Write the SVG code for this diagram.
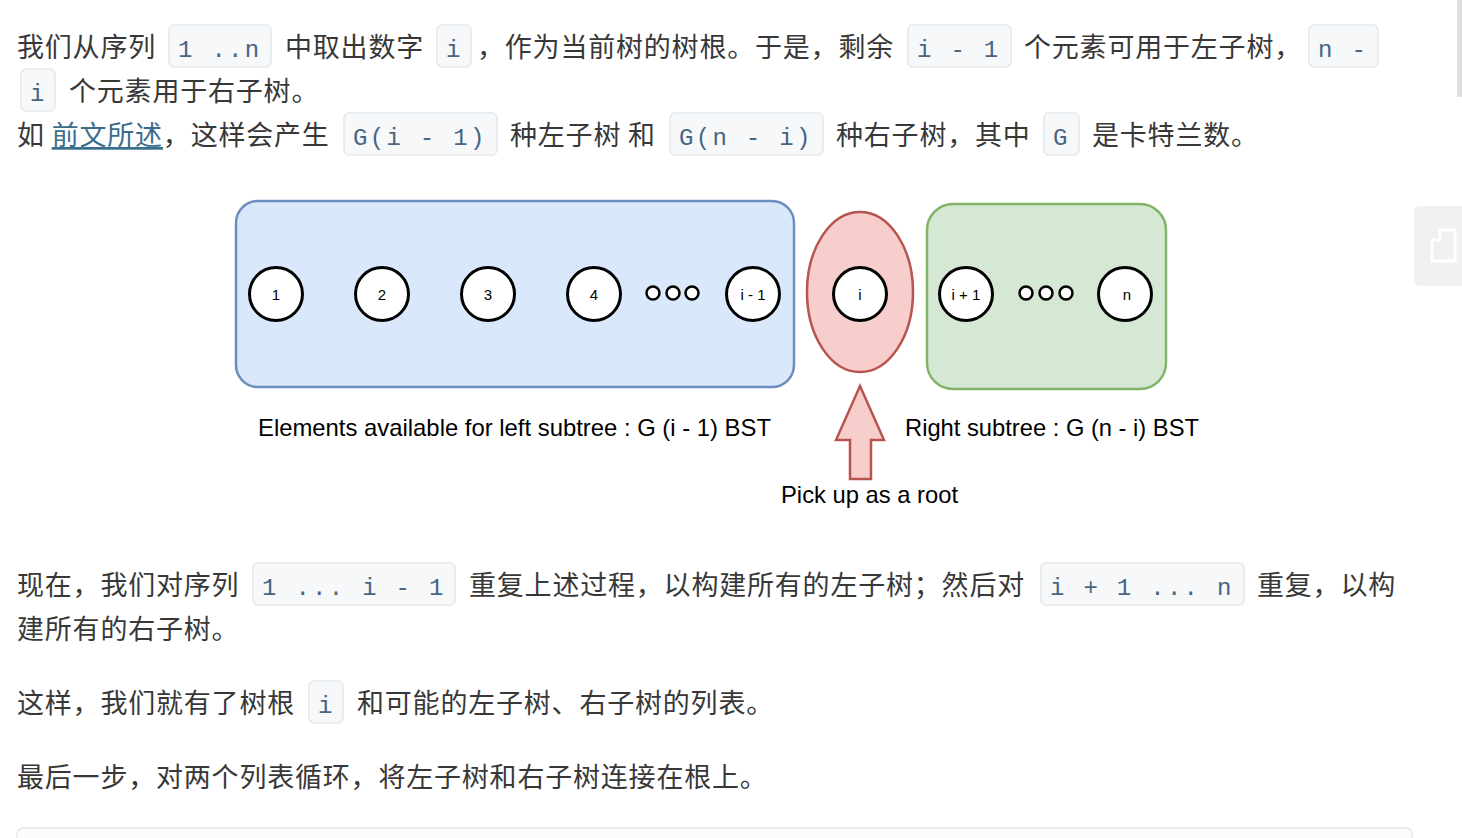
<svg xmlns="http://www.w3.org/2000/svg" width="1462" height="838" viewBox="0 0 1462 838">
<style>
.cn{font-family:"Noto Sans CJK SC","Liberation Sans",sans-serif;font-size:27px;letter-spacing:0.8px;fill:#383838}
.cb{fill:#f6f8fa;stroke:#e4e8ec;stroke-width:1.5}
.cd{font-family:"Liberation Mono","DejaVu Sans Mono",monospace;font-size:24px;letter-spacing:2.3px;fill:#476582}
.lk{fill:#3a6d8c;text-decoration:underline}
.nd{fill:#ffffff;stroke:#000000;stroke-width:3}
.dot{fill:#ffffff;stroke:#000000;stroke-width:2.5}
.nl{font-family:"Liberation Sans",Arial,sans-serif;font-size:15px;fill:#000;text-anchor:middle}
.lb{font-family:"Liberation Sans",Arial,sans-serif;font-size:24px;fill:#000}
</style>
<rect width="1462" height="838" fill="#ffffff"/>

<g id="paragraph1">
<text class="cn" x="17" y="57">我们从序列</text>
<rect class="cb" x="169" y="25" width="102" height="42" rx="5"/>
<text class="cd" x="178" y="57">1 ..n</text>
<text class="cn" x="285" y="57">中取出数字</text>
<rect class="cb" x="437" y="25" width="34" height="42" rx="5"/>
<text class="cd" x="446" y="57">i</text>
<text class="cn" x="477" y="57">，作为当前树的树根。于是，剩余</text>
<rect class="cb" x="908" y="25" width="103" height="42" rx="5"/>
<text class="cd" x="917" y="57">i - 1</text>
<text class="cn" x="1024" y="57">个元素可用于左子树，</text>
<rect class="cb" x="1309" y="25" width="69" height="42" rx="5"/>
<text class="cd" x="1318" y="57">n -</text>
<rect class="cb" x="21" y="69" width="34" height="42" rx="5"/>
<text class="cd" x="30" y="101">i</text>
<text class="cn" x="69" y="101">个元素用于右子树。</text>
<text class="cn" x="17" y="145">如 <tspan class="lk">前文所述</tspan>，这样会产生</text>
<rect class="cb" x="344" y="113" width="153" height="42" rx="5"/>
<text class="cd" x="353" y="145">G(i - 1)</text>
<text class="cn" x="510" y="145">种左子树 和</text>
<rect class="cb" x="670" y="113" width="153" height="42" rx="5"/>
<text class="cd" x="679" y="145">G(n - i)</text>
<text class="cn" x="836" y="145">种右子树，其中</text>
<rect class="cb" x="1044" y="113" width="35" height="42" rx="5"/>
<text class="cd" x="1053" y="145">G</text>
<text class="cn" x="1092" y="145">是卡特兰数。</text>
</g>

<g id="left-subtree">
<rect x="236" y="201" width="558" height="186" rx="22" fill="#dae8fc" stroke="#6c8ebf" stroke-width="2.5"/>
<circle class="nd" cx="276" cy="294" r="26.5"/>
<text class="nl" x="276" y="300">1</text>
<circle class="nd" cx="382" cy="294" r="26.5"/>
<text class="nl" x="382" y="300">2</text>
<circle class="nd" cx="488" cy="294" r="26.5"/>
<text class="nl" x="488" y="300">3</text>
<circle class="nd" cx="594" cy="294" r="26.5"/>
<text class="nl" x="594" y="300">4</text>
<circle class="dot" cx="653" cy="293" r="6.5"/>
<circle class="dot" cx="673" cy="293" r="6.5"/>
<circle class="dot" cx="692" cy="293" r="6.5"/>
<circle class="nd" cx="753" cy="294" r="26.5"/>
<text class="nl" x="753" y="300">i - 1</text>
</g>

<g id="root">
<ellipse cx="860" cy="292" rx="53" ry="80" fill="#f8cecc" stroke="#b85450" stroke-width="2.5"/>
<circle class="nd" cx="860" cy="294" r="26.5"/>
<text class="nl" x="860" y="300">i</text>
</g>

<g id="right-subtree">
<rect x="927" y="204" width="239" height="185" rx="26" fill="#d5e8d4" stroke="#82b366" stroke-width="2.5"/>
<circle class="nd" cx="966" cy="294" r="26.5"/>
<text class="nl" x="966" y="300">i + 1</text>
<circle class="dot" cx="1026" cy="293" r="6.5"/>
<circle class="dot" cx="1046" cy="293" r="6.5"/>
<circle class="dot" cx="1066" cy="293" r="6.5"/>
<circle class="nd" cx="1125" cy="294" r="26.5"/>
<text class="nl" x="1127" y="300">n</text>
</g>

<g id="connectors">
<path d="M860 386 L884 440 L871 440 L871 479 L850 479 L850 440 L836 440 Z" fill="#f8cecc" stroke="#b85450" stroke-width="2.5" stroke-linejoin="miter"/>
</g>

<g id="labels">
<text class="lb" x="258" y="436" textLength="513" lengthAdjust="spacingAndGlyphs">Elements available for left subtree : G (i - 1) BST</text>
<text class="lb" x="905" y="436" textLength="294" lengthAdjust="spacingAndGlyphs">Right subtree : G (n - i) BST</text>
<text class="lb" x="781" y="503" textLength="177" lengthAdjust="spacingAndGlyphs">Pick up as a root</text>
</g>

<g id="paragraph2">
<text class="cn" x="17" y="595">现在，我们对序列</text>
<rect class="cb" x="253" y="563" width="202" height="42" rx="5"/>
<text class="cd" x="262" y="595">1 ... i - 1</text>
<text class="cn" x="469" y="595">重复上述过程，以构建所有的左子树；然后对</text>
<rect class="cb" x="1041" y="563" width="203" height="42" rx="5"/>
<text class="cd" x="1050" y="595">i + 1 ... n</text>
<text class="cn" x="1257" y="595">重复，以构</text>
<text class="cn" x="17" y="639">建所有的右子树。</text>
</g>

<g id="paragraph3">
<text class="cn" x="17" y="713">这样，我们就有了树根</text>
<rect class="cb" x="309" y="681" width="34" height="42" rx="5"/>
<text class="cd" x="318" y="713">i</text>
<text class="cn" x="357" y="713">和可能的左子树、右子树的列表。</text>
</g>

<g id="paragraph4">
<text class="cn" x="17" y="787">最后一步，对两个列表循环，将左子树和右子树连接在根上。</text>
</g>

<g id="page-chrome">
<rect x="17" y="828" width="1395" height="40" rx="6" fill="#fbfcfd" stroke="#e6e8eb" stroke-width="1.5"/>
<rect x="1457" y="0" width="5" height="97" fill="#dedede"/>
<rect x="1414" y="206" width="60" height="80" rx="6" fill="#f0f1f3"/>
<path d="M1440 230 L1455 230 L1455 261 L1432 261 L1432 240 L1440 240 Z" fill="none" stroke="#ffffff" stroke-width="3" stroke-linejoin="round"/>
</g>
</svg>
